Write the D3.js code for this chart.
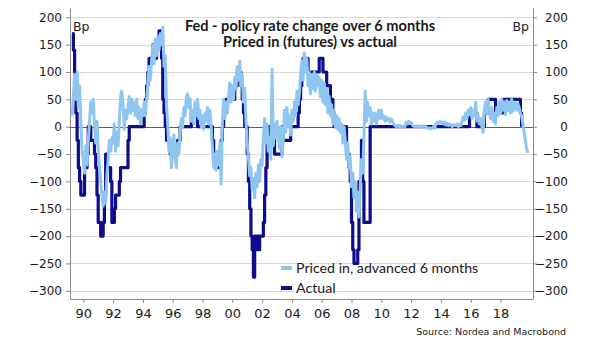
<!DOCTYPE html>
<html>
<head>
<meta charset="utf-8">
<script src="https://d3js.org/d3.v7.min.js"></script>
<style>
  body { margin: 0; background: #fff; }
  text { font-family: 'DejaVu Sans', sans-serif; fill: #1a1a1a; }
  .grid line { stroke: #dadada; stroke-width: 1; }
  .zero { stroke: #606060; stroke-width: 1; }
  .axis path, .axis line { stroke: #8a8a8a; }
  .axis text { font-size: 12px; fill: #1a1a1a; }
  .xaxis text { font-size: 13px; }
  .title { font-family: Lato, sans-serif; font-weight: 700; font-size: 14.6px; }
  .legend { font-family: Lato, sans-serif; font-size: 14.2px; }
  .source { font-size: 9.5px; }
  .line { fill: none; stroke-linejoin: round; }
</style>
</head>
<body>
<div id="chart"></div>
<script>

// monthly data, first point is April 1989
var firstMonth = 1989 + 3 / 12;

// Actual: 6-month change in policy rate, bp
var actual = [
  170, 140, 100, 25, -25, -75, -100, -125, -125,                 // 1989 (Apr-Dec)
  -125, -75, -75, -50, 0, 0, -25, -25, -25, -50, -75, -125,     // 1990
  -175, -175, -200, -200, -175, -125, -50, -75, -75, -75, -100, -175, // 1991
  -175, -150, -125, -125, -125, -100, -75, -75, -75, -75, -75, -75,   // 1992
  -25, 0, 0, 0, 0, 0, 0, 0, 0, 0, 0, 0,                          // 1993
  0, 25, 50, 75, 100, 125, 125, 125, 150, 125, 125, 150,         // 1994
  150, 175, 175, 125, 50, 25, 0, -25, -25, -25, -50, -50,        // 1995
  -50, -50, -50, -50, -25, -25, 0, 0, 0, 0, 0, 0,                // 1996
  0, 0, 0, 25, 25, 25, 25, 25, 0, 0, 0, 0,                       // 1997
  0, 0, 0, 0, 0, 0, 0, 0, -25, -50, -75, -75,                    // 1998
  -75, -75, -50, -25, 0, 25, 25, 50, 50, 50, 75, 50,             // 1999
  50, 50, 75, 75, 100, 100, 100, 75, 50, 25, 0, 0,               // 2000
  -50, -100, -150, -200, -225, -275, -200, -225, -200, -225, -200, -200, // 2001
  -200, -175, -125, -75, -25, 0, 0, 0, 0, 0, -50, -50,           // 2002
  -50, -50, -50, -50, 0, -25, -25, -25, -25, -25, -25, 0,        // 2003
  0, 0, 0, 0, 0, 25, 50, 75, 100, 125, 125, 125,                 // 2004
  125, 100, 100, 100, 100, 100, 100, 100, 100, 100, 125, 125,    // 2005
  125, 100, 100, 100, 75, 75, 75, 50, 50, 25, 0, 0,              // 2006
  0, 0, 0, 0, 0, 0, 0, 0, -50, -50, -75, -100,                   // 2007
  -175, -225, -250, -250, -250, -225, -100, -100, -25, -100, -175, -175, // 2008
  -175, -175, -175, 0, 0, 0, 0, 0, 0, 0, 0, 0,                   // 2009
  0, 0, 0, 0, 0, 0, 0, 0, 0, 0, 0, 0,                            // 2010
  0, 0, 0, 0, 0, 0, 0, 0, 0, 0, 0, 0,                            // 2011
  0, 0, 0, 0, 0, 0, 0, 0, 0, 0, 0, 0,                            // 2012
  0, 0, 0, 0, 0, 0, 0, 0, 0, 0, 0, 0,                            // 2013
  0, 0, 0, 0, 0, 0, 0, 0, 0, 0, 0, 0,                            // 2014
  0, 0, 0, 0, 0, 0, 0, 0, 0, 0, 0, 25,                           // 2015
  25, 25, 25, 25, 25, 0, 0, 0, 0, 0, 0, 25,                      // 2016
  25, 25, 50, 50, 50, 50, 50, 50, 25, 25, 25, 25,                // 2017
  25, 25, 50, 50, 50, 50, 50, 50, 50, 50, 50, 50,                // 2018
  50, 50, 50, 50, 25, 0                                          // 2019
];

// Priced in (futures), advanced 6 months, bp
var pricedIn = [
  20, 55, 95, 50, 100, 35, 75, 10, -45,                          // 1989 (Apr-Dec)
  -60, -85, -35, -70, -25, 10, 45, 25, 50, 5, -30, 10,           // 1990
  -40, -75, -100, -125, -145, -120, -140, -90, -60, -25, -45, -20, // 1991
  -30, 5, -45, -10, -35, 10, 55, 65, 40, -5, 30, 15,             // 1992
  35, 55, 25, 50, 30, 45, 20, 50, 15, 35, 5, 30,                 // 1993
  20, 45, 20, 50, 80, 110, 85, 120, 150, 115, 160, 130,          // 1994
  165, 140, 170, 150, 182, 110, 130, 40, 5, -45, -20, -75,       // 1995
  -40, -15, -55, -75, -30, -50, -10, 15, 0, 35, 20, 55,          // 1996
  60, 35, 50, 10, 30, 5, 45, 20, 50, 15, 30, 0,                  // 1997
  20, -5, 25, 10, 35, 5, 30, 0, -40, -75, -50, -80,              // 1998
  -45, -70, -30, -105, 10, 50, 15, 45, 25, 55, 80, 45,           // 1999
  75, 50, 90, 70, 110, 85, 120, 75, 95, 45, 70, 10,              // 2000
  -30, -55, -90, -75, -115, -95, -130, -85, -110, -70, -100, -60, // 2001
  -70, -20, 15, -30, 5, -45, -20, -60, 105, -35, 5, -20,         // 2002
  10, -15, -40, 0, -55, -25, 30, -10, 35, 0, 20, -15,            // 2003
  30, 10, 45, 20, 65, 40, 60, 95, 120, 85, 135, 100,             // 2004
  125, 75, 100, 60, 95, 70, 100, 65, 95, 75, 90, 55,             // 2005
  85, 45, 80, 40, 70, 25, 55, 20, 40, 5, 30, 0,                  // 2006
  20, -5, 15, -10, 5, -30, 0, -25, -60, -30, -75, -55,           // 2007
  -110, -85, -130, -100, -155, -120, -165, -110, -60, -85, -20, 65, // 2008
  10, 45, 20, 35, 5, 25, 10, 25, 5, 20, 30, 15,                  // 2009
  30, 15, 20, 10, 18, 12, 15, 8, 14, 10, 5, 2,                   // 2010
  0, 3, 0, 2, -1, 0, 1, 0, 8, 5, 10, 6,                          // 2011
  8, 3, 1, 0, 2, 0, -1, 1, 0, 2, 0, 1,                           // 2012
  0, -2, -3, -2, -4, -2, 0, -3, 5, 8, 6, 10,                     // 2013
  7, 9, 5, 8, 3, 6, 2, 5, 3, 0, 4, 2,                            // 2014
  2, 5, 0, 4, 2, 10, 18, 12, 25, 15, 30, 22,                     // 2015
  35, 15, 30, 20, 45, 10, 20, 5, 15, 0, -10, 30,                 // 2016
  45, 25, 50, 30, 15, 35, 10, 25, 5, 35, 20, 45,                 // 2017
  25, 50, 30, 45, 22, 48, 30, 45, 25, 50, 28, 40,                // 2018
  45, 30, 42, 35, 25, 20, 5, -10, -25, -40, -48                  // 2019
];

var yTicks = [200, 150, 100, 50, 0, -50, -100, -150, -200, -250, -300];
var xTicks = [1990, 1992, 1994, 1996, 1998, 2000, 2002, 2004, 2006, 2008, 2010, 2012, 2014, 2016, 2018];
var xTickLabels = ["90", "92", "94", "96", "98", "00", "02", "04", "06", "08", "10", "12", "14", "16", "18"];

var title1 = "Fed - policy rate change over 6 months";
var title2 = "Priced in (futures) vs actual";
var legendLabels = ["Priced in, advanced 6 months", "Actual"];
var source = "Source: Nordea and Macrobond";

var lightBlue = "#8fc6f1",
    darkBlue = "#0d0d8e";

function draw() {
  var width = 605, height = 341;
  var plotLeft = 70, plotRight = 533, plotTop = 8, plotBottom = 299;

  var svg = d3.select("#chart").append("svg")
      .attr("width", width)
      .attr("height", height);

  var x = d3.scaleLinear().domain([1989.107, 2020.18]).range([plotLeft, plotRight]);
  var y = d3.scaleLinear().domain([-315, 217]).range([plotBottom, plotTop]);

  // gridlines
  svg.append("g").attr("class", "grid")
    .selectAll("line")
    .data(yTicks.filter(function(d) { return d !== 0; }))
    .enter().append("line")
      .attr("x1", plotLeft).attr("x2", plotRight)
      .attr("y1", function(d) { return Math.round(y(d)) + 0.5; })
      .attr("y2", function(d) { return Math.round(y(d)) + 0.5; });

  // axes
  svg.append("g").attr("class", "axis")
      .attr("transform", "translate(" + plotLeft + ",0)")
      .call(d3.axisLeft(y).tickValues(yTicks).tickSize(4).tickSizeOuter(0).tickPadding(4));

  var yRight = svg.append("g").attr("class", "axis")
      .attr("transform", "translate(" + plotRight + ",0)")
      .call(d3.axisRight(y).tickValues(yTicks).tickSize(4).tickSizeOuter(0));
  yRight.selectAll("text").attr("text-anchor", "end").attr("x", 35);

  svg.append("g").attr("class", "axis xaxis")
      .attr("transform", "translate(0," + plotBottom + ")")
      .call(d3.axisBottom(x).tickValues(xTicks).tickSize(4).tickSizeOuter(0).tickPadding(6)
        .tickFormat(function(d, i) { return xTickLabels[i]; }));

  // zero line
  svg.append("line").attr("class", "zero")
      .attr("x1", plotLeft).attr("x2", plotRight)
      .attr("y1", Math.round(y(0)) + 0.5).attr("y2", Math.round(y(0)) + 0.5);

  // series
  function monthX(d, i) { return x(firstMonth + i / 12); }

  var actualLine = d3.line()
      .x(monthX)
      .y(function(d) { return y(d); })
      .curve(d3.curveStepAfter);

  var pricedLine = d3.line()
      .x(monthX)
      .y(function(d) { return y(d); });

  svg.append("path").datum(actual)
      .attr("class", "line")
      .attr("stroke", darkBlue)
      .attr("stroke-width", 3.2)
      .attr("d", actualLine);

  svg.append("path").datum(pricedIn)
      .attr("class", "line")
      .attr("stroke", lightBlue)
      .attr("stroke-width", 3)
      .attr("d", pricedLine);

  // titles
  svg.append("text").attr("class", "title")
      .attr("x", 310).attr("y", 31).attr("text-anchor", "middle").text(title1);
  svg.append("text").attr("class", "title")
      .attr("x", 310).attr("y", 47).attr("text-anchor", "middle").text(title2);

  svg.append("text").attr("x", 73).attr("y", 31).style("font-size", "12.5px").text("Bp");
  svg.append("text").attr("x", 529).attr("y", 31).attr("text-anchor", "end")
      .style("font-size", "12.5px").text("Bp");

  // legend
  var legendColors = [lightBlue, darkBlue];
  var legend = svg.append("g").selectAll("g")
      .data(legendLabels)
    .enter().append("g")
      .attr("transform", function(d, i) { return "translate(281," + (268 + i * 20) + ")"; });

  legend.append("line")
      .attr("x1", 0).attr("x2", 11)
      .attr("stroke", function(d, i) { return legendColors[i]; })
      .attr("stroke-width", 4);

  legend.append("text").attr("class", "legend")
      .attr("x", 15).attr("y", 5)
      .text(function(d) { return d; });

  svg.append("text").attr("class", "source")
      .attr("x", 566).attr("y", 335).attr("text-anchor", "end")
      .text(source);
}

draw();

</script>
</body>
</html>
